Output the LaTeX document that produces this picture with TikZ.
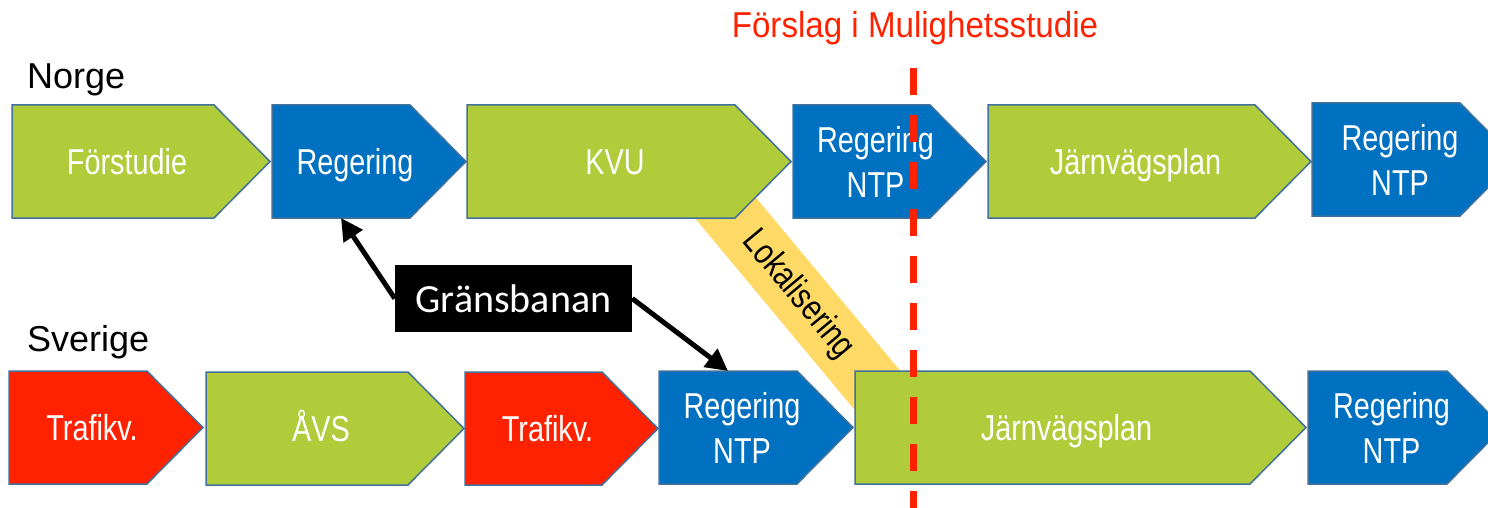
\documentclass[tikz,border=0pt]{standalone}
\usepackage{fontspec}
\setmainfont{Liberation Sans}
\newfontfamily\narrowfont[FakeStretch=0.8]{Liberation Sans}
\newfontfamily\titlefont[FakeStretch=0.92]{Liberation Sans}
\newfontfamily\calfont{Carlito}
\usetikzlibrary{arrows.meta}
\definecolor{leafgreen}{RGB}{176,204,58}
\definecolor{govblue}{RGB}{0,112,192}
\definecolor{signalred}{RGB}{255,34,0}
\definecolor{bandyellow}{RGB}{255,217,102}
\definecolor{edgeblue}{RGB}{65,113,156}

\tikzset{
  phaseframe/.style={inner sep=0pt, outer sep=0pt, minimum height=113pt},
  phaseline/.style={draw=edgeblue, line width=1.5pt, line join=miter},
  phasetext/.style={inner sep=0pt, align=center, text=white,
    font=\narrowfont\fontsize{36}{45}\selectfont},
  oneline/.style={text height=26pt, text depth=0pt},
  bandbox/.style={fill=bandyellow, inner sep=0pt, minimum width=280pt,
    minimum height=60pt, font=\narrowfont\fontsize{36}{45}\selectfont},
  gbbox/.style={fill=black, text=white, inner sep=0pt, minimum width=237pt,
    minimum height=67pt, font=\calfont\fontsize{40}{48}\selectfont},
  gbarrow/.style={draw=black, line width=5pt, -{Triangle[length=22pt,width=22pt]}},
  country/.style={anchor=base west, inner sep=0pt, font=\fontsize{36}{43}\selectfont},
  titletext/.style={anchor=base, inner sep=0pt, text=signalred,
    font=\titlefont\fontsize{36}{43}\selectfont},
  redline/.style={draw=signalred, line width=7pt, dash pattern=on 27pt off 20pt}
}

% one stage: [text options] name, colour, left x, tip x, top y, text
\newcommand{\drawstage}[7][]{%
  \node[phaseframe, minimum width={#5-#4}] (#2) at ({(#4+#5)/2},{#6+56.5}) {};
  \draw[phaseline, fill=#3] (#2.north west) -- ([xshift=-56pt]#2.north east) -- (#2.east)
    -- ([xshift=-56pt]#2.south east) -- (#2.south west) -- cycle;
  \node[phasetext, #1] (#2-t) at ([xshift=-14pt]#2.center) {#7};
}

\begin{document}
\begin{tikzpicture}[x=1pt, y=-1pt]
  \useasboundingbox (0,0) rectangle (1488,508);
  \clip (0,0) rectangle (1488,508);

  % band under the boxes
  \node[bandbox, rotate=-50.2] (lok) at (798,295) {Lokalisering};

  % Norge
  \drawstage[oneline]{fs}{leafgreen}{12}{270}{105}{Förstudie}
  \drawstage[oneline]{reg1}{govblue}{272}{466}{105}{Regering}
  \drawstage[oneline]{kvu}{leafgreen}{467}{791}{105}{KVU}
  \drawstage{ntp1}{govblue}{793}{986}{105}{Regering\\NTP}
  \drawstage[oneline]{jvp1}{leafgreen}{988}{1311}{105}{Järnvägsplan}
  \drawstage{ntp2}{govblue}{1312}{1516}{103}{Regering\\NTP}

  % Sverige
  \drawstage[oneline]{tv1}{signalred}{9}{203}{371}{Trafikv.}
  \drawstage[oneline]{avs}{leafgreen}{206}{464}{372}{ÅVS}
  \drawstage[oneline]{tv2}{signalred}{465}{658}{372}{Trafikv.}
  \drawstage{ntp3}{govblue}{659}{853}{371}{Regering\\NTP}
  \drawstage[oneline]{jvp2}{leafgreen}{855}{1306}{371}{Järnvägsplan}
  \drawstage{ntp4}{govblue}{1308}{1503}{371}{Regering\\NTP}

  \node[gbbox] (gb) at (513.5,298.5) {Gränsbanan};
  \draw[gbarrow] (gb.west) -- ([xshift=69pt]reg1.south west);
  \draw[gbarrow] (gb.east) -- ([xshift=69pt]ntp3.north west);

  \node[country] (norge) at (27,89) {Norge};
  \node[country] (sverige) at (27,351) {Sverige};
  \node[titletext] (title) at (915,38) {Förslag i Mulighetsstudie};

  \coordinate (dtop) at (913,68);
  \coordinate (dbot) at (913,508);
  \draw[redline] (dtop) -- (dbot);
\end{tikzpicture}
\end{document}
